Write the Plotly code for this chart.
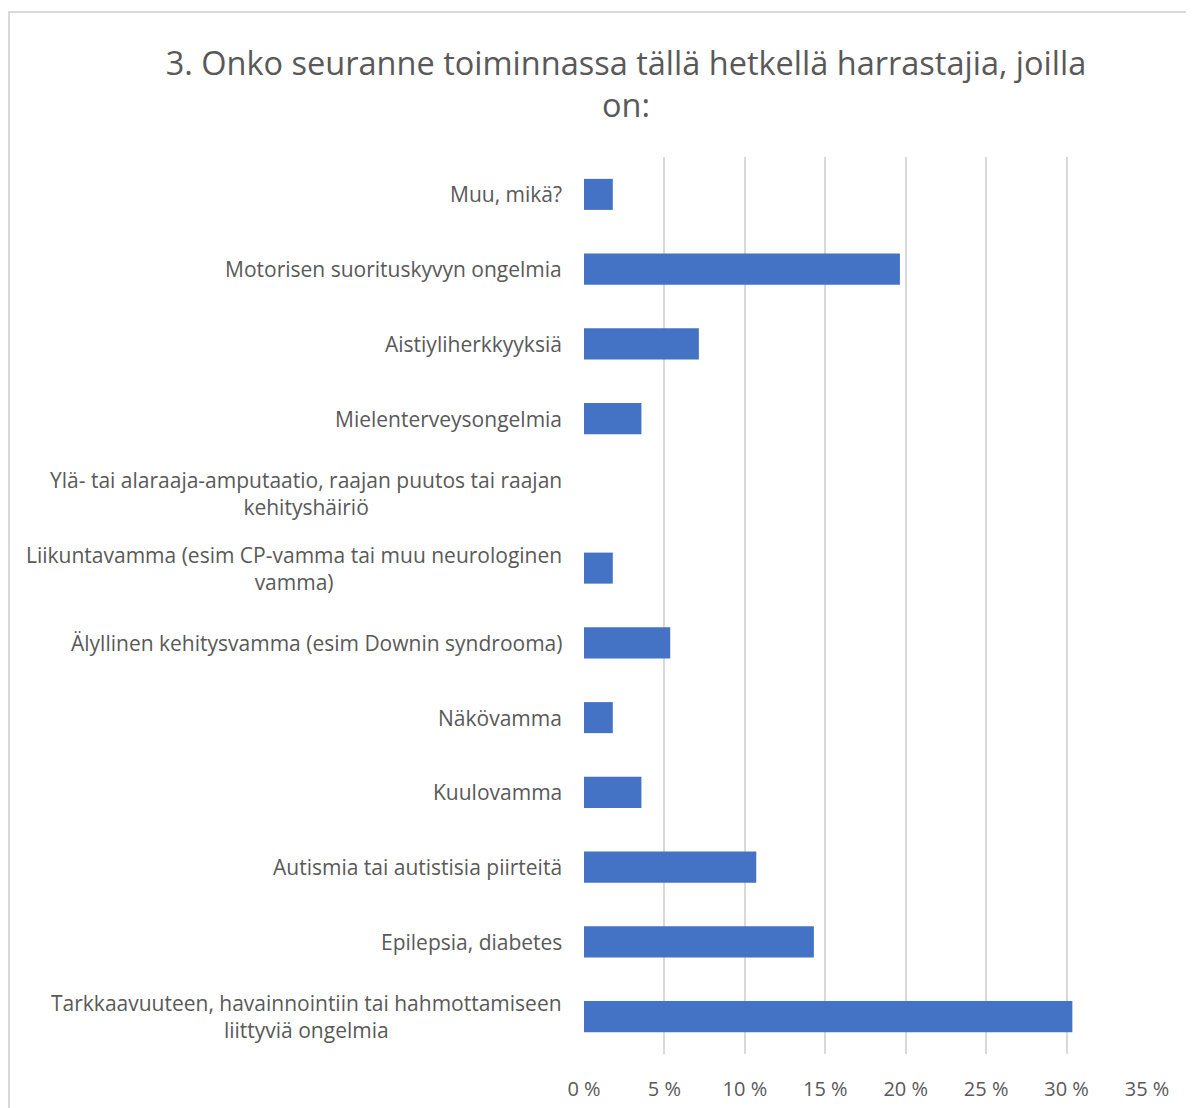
import plotly.graph_objects as go

categories = [
    "Tarkkaavuuteen, havainnointiin tai hahmottamiseen<br>liittyviä ongelmia",
    "Epilepsia, diabetes",
    "Autismia tai autistisia piirteitä",
    "Kuulovamma",
    "Näkövamma",
    "Älyllinen kehitysvamma (esim Downin syndrooma)",
    "Liikuntavamma (esim CP-vamma tai muu neurologinen<br>vamma)",
    "Ylä- tai alaraaja-amputaatio, raajan puutos tai raajan<br>kehityshäiriö",
    "Mielenterveysongelmia",
    "Aistiyliherkkyyksiä",
    "Motorisen suorituskyvyn ongelmia",
    "Muu, mikä?",
]
values = [0.3036, 0.1429, 0.1071, 0.0357, 0.0179, 0.0536, 0.0179, 0.0, 0.0357, 0.0714, 0.1964, 0.0179]
tick_vals = [0, 0.05, 0.10, 0.15, 0.20, 0.25, 0.30, 0.35]
tick_text = ["0 %", "5 %", "10 %", "15 %", "20 %", "25 %", "30 %", "35 %"]
title_text = "3. Onko seuranne toiminnassa tällä hetkellä harrastajia, joilla<br>on:"

FONT = "Open Sans"
GRAY = "#595959"

# page has an 8px body margin; figure area is offset by it
W, H = 1186, 1100
L, R, T, B = 576, 47, 149, 54
PW, PH = W - L - R, H - T - B

fig = go.Figure(go.Bar(
    x=values, y=list(range(len(categories))), orientation="h",
    marker=dict(color="#4472C4", line=dict(width=0)),
))

annotations = []
for i, cat in enumerate(categories):
    annotations.append(dict(
        x=0, xref="paper", xanchor="right", xshift=-20,
        y=i, yref="y", yanchor="middle",
        text=cat, showarrow=False, align="center",
        font=dict(family=FONT, size=21, color=GRAY),
    ))

fig.update_layout(
    width=W, height=H,
    margin=dict(l=L, r=R, t=T, b=B, autoexpand=False),
    paper_bgcolor="white", plot_bgcolor="white",
    bargap=0.585,
    showlegend=False,
    title=dict(
        text=title_text, x=(626 - 8) / W, xanchor="center", xref="container",
        y=1 - (75 - 8) / H, yanchor="middle",
        font=dict(family=FONT, size=32.5, color=GRAY),
    ),
    xaxis=dict(
        range=[0, 0.35], tickvals=tick_vals, ticktext=tick_text,
        showgrid=True, gridcolor="#d9d9d9", gridwidth=2,
        zeroline=False, showline=False, automargin=False,
        ticks="outside", ticklen=17, tickcolor="rgba(0,0,0,0)",
        tickfont=dict(family=FONT, size=20, color=GRAY),
        fixedrange=True,
    ),
    yaxis=dict(
        range=[-0.5, len(categories) - 0.5], showticklabels=False, automargin=False,
        showgrid=False, zeroline=False, showline=False, fixedrange=True,
    ),
    annotations=annotations,
    shapes=[dict(
        type="rect", xref="paper", yref="paper",
        x0=(9 - 584) / PW, x1=(1240 - 584) / PW,
        y0=(1054 - 1130) / PH, y1=(1054 - 12) / PH,
        line=dict(color="#d9d9d9", width=2), fillcolor="rgba(0,0,0,0)", layer="below",
    )],
)

fig.write_html("out.html")
